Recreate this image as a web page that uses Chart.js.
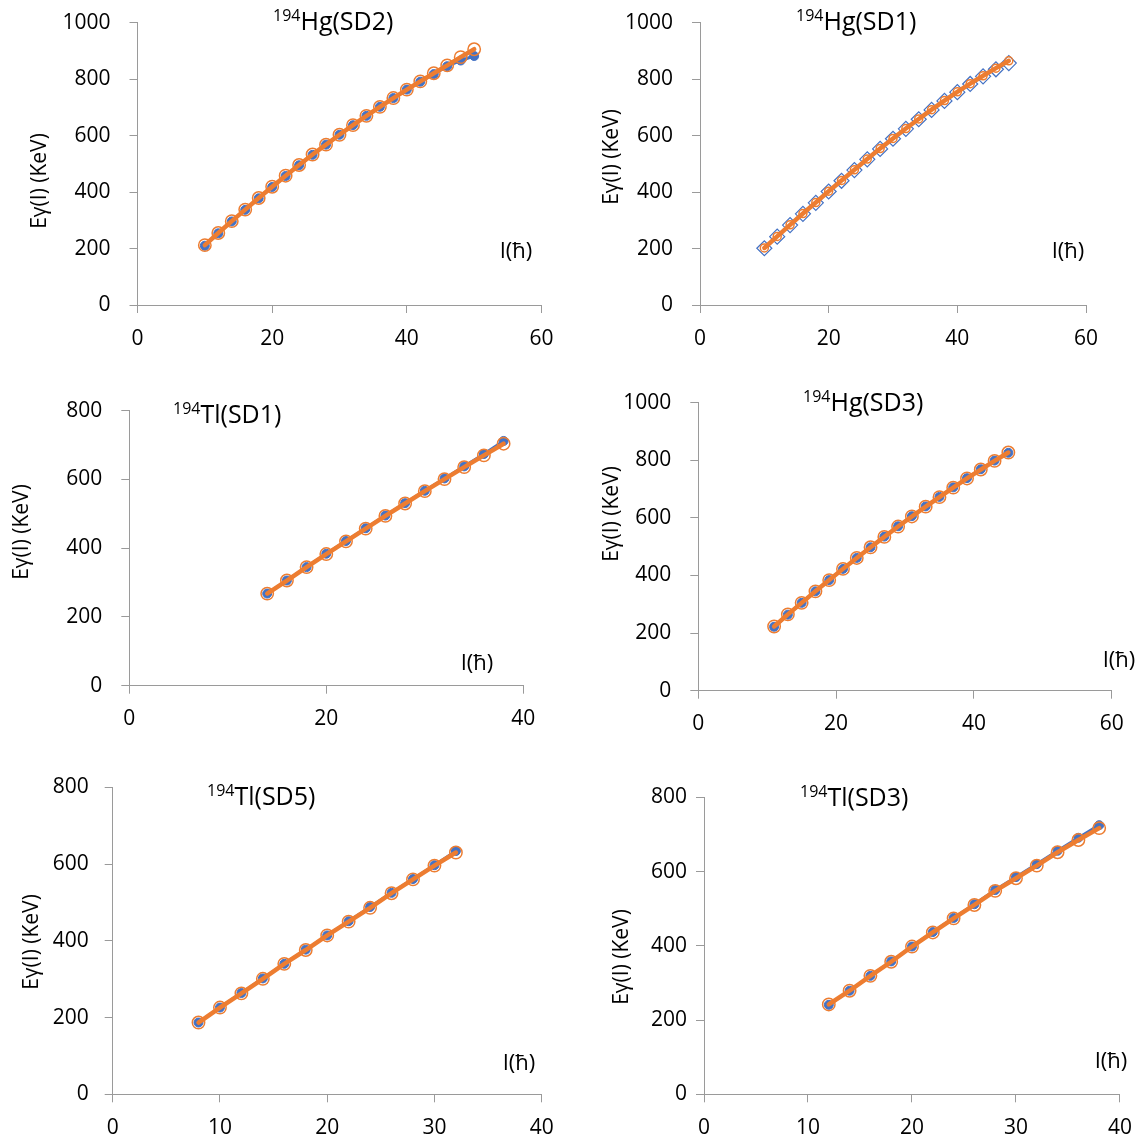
<!DOCTYPE html>
<html>
<head>
<meta charset="utf-8">
<script src="https://cdn.jsdelivr.net/npm/chart.js@4.4.1/dist/chart.umd.min.js"></script>
<style>
  html, body { margin: 0; padding: 0; background: #fff; }
  #wrap { position: relative; width: 1145px; height: 1145px; }
  canvas { position: absolute; }
</style>
</head>
<body>
<div id="wrap"></div>
<script>
// spin values (x) and gamma energies in keV (y) for each band
const spinHgSD2 = [10, 12, 14, 16, 18, 20, 22, 24, 26, 28, 30, 32, 34, 36, 38, 40, 42, 44, 46, 48, 50];
const hgSD2Exp  = [210, 254, 296, 337, 378, 418, 457, 495, 532, 568, 603, 637, 670, 702, 733, 763, 791, 818, 846, 866, 882];
const hgSD2Calc = [212, 255, 297, 338, 379, 419, 458, 496, 533, 568, 603, 637, 670, 702, 733, 763, 792, 821, 849, 878, 906];

const spinHgSD1 = [10, 12, 14, 16, 18, 20, 22, 24, 26, 28, 30, 32, 34, 36, 38, 40, 42, 44, 46, 48];
const hgSD1Exp  = [201, 242, 283, 323, 362, 402, 440, 478, 516, 553, 589, 624, 658, 691, 723, 754, 783, 810, 835, 857];
const hgSD1Calc = [202, 243, 284, 324, 363, 403, 441, 479, 517, 554, 590, 625, 659, 692, 724, 755, 784, 812, 839, 865];

const spinTlSD1 = [14, 16, 18, 20, 22, 24, 26, 28, 30, 32, 34, 36, 38];
const tlSD1Exp  = [268, 306, 345, 384, 421, 458, 495, 531, 567, 603, 638, 674, 712];
const tlSD1Calc = [268, 306, 345, 383, 420, 457, 494, 530, 566, 601, 636, 670, 704];

const spinHgSD3 = [11, 13, 15, 17, 19, 21, 23, 25, 27, 29, 31, 33, 35, 37, 39, 41, 43, 45];
const hgSD3Exp  = [222, 264, 305, 345, 384, 423, 461, 498, 535, 571, 606, 640, 673, 706, 738, 769, 799, 826];
const hgSD3Calc = [223, 265, 305, 345, 384, 423, 461, 498, 534, 570, 605, 639, 672, 705, 737, 768, 798, 827];

const spinTlSD5 = [8, 10, 12, 14, 16, 18, 20, 22, 24, 26, 28, 30, 32];
const tlSD5Exp  = [187, 226, 264, 302, 340, 377, 414, 451, 488, 525, 561, 597, 634];
const tlSD5Calc = [187, 226, 263, 301, 340, 376, 414, 450, 486, 524, 560, 596, 630];

const spinTlSD3 = [12, 14, 16, 18, 20, 22, 24, 26, 28, 30, 32, 34, 36, 38];
const tlSD3Exp  = [241, 279, 319, 358, 398, 437, 475, 512, 550, 585, 620, 656, 691, 725];
const tlSD3Calc = [242, 279, 319, 357, 398, 436, 474, 510, 548, 582, 616, 652, 685, 717];

const BLUE = '#4472C4';
const ORANGE = '#ED7D31';
const AXIS = '#9a9a9a';
const FONT = "'Open Sans', sans-serif";

Chart.defaults.font.family = FONT;
Chart.defaults.color = '#000';

const panels = [
  { cell: [0, 0, 572, 370], area: [137.5, 22.7, 541.5, 305], xMax: 60, xStep: 20, yMax: 1000, yPad: 19,
    spins: spinHgSD2, exp: hgSD2Exp, calc: hgSD2Calc, nucleus: 'Hg', band: '(SD2)',
    title: [273, 30], unit: [516, 258], yTitle: [40, 181], style: 'dot' },
  { cell: [572, 0, 573, 370], area: [700, 22.7, 1086, 305], xMax: 60, xStep: 20, yMax: 1000, yPad: 19,
    spins: spinHgSD1, exp: hgSD1Exp, calc: hgSD1Calc, nucleus: 'Hg', band: '(SD1)',
    title: [796, 30], unit: [1068, 258], yTitle: [612, 157], style: 'diamond' },
  { cell: [0, 370, 572, 390], area: [129.3, 410.7, 523.3, 685.7], xMax: 40, xStep: 20, yMax: 800, yPad: 19,
    spins: spinTlSD1, exp: tlSD1Exp, calc: tlSD1Calc, nucleus: 'Tl', band: '(SD1)',
    title: [173, 423], unit: [477, 670], yTitle: [22, 532], style: 'dot' },
  { cell: [572, 370, 573, 390], area: [698.3, 402.7, 1111.7, 690.7], xMax: 60, xStep: 20, yMax: 1000, yPad: 19,
    spins: spinHgSD3, exp: hgSD3Exp, calc: hgSD3Calc, nucleus: 'Hg', band: '(SD3)',
    title: [803, 411], unit: [1119, 667], yTitle: [612, 514], style: 'dot' },
  { cell: [0, 760, 572, 385], area: [112.7, 787.3, 541.7, 1094.3], xMax: 40, xStep: 10, yMax: 800, yPad: 16,
    spins: spinTlSD5, exp: tlSD5Exp, calc: tlSD5Calc, nucleus: 'Tl', band: '(SD5)',
    title: [207, 805], unit: [519, 1070], yTitle: [32, 942], style: 'dot' },
  { cell: [572, 760, 573, 385], area: [704, 797.3, 1123.3, 1094.3], xMax: 40, xStep: 10, yMax: 800, yPad: 9,
    spins: spinTlSD3, exp: tlSD3Exp, calc: tlSD3Calc, nucleus: 'Tl', band: '(SD3)',
    title: [800, 806], unit: [1111, 1068], yTitle: [622, 957], style: 'dot' }
];

// band name, I(ħ) and the rotated y title, placed in page coordinates
function labelPlugin(p) {
  return {
    id: 'labels',
    afterDraw(chart) {
      const ctx = chart.ctx;
      const ox = p.cell[0], oy = p.cell[1];
      ctx.save();
      ctx.fillStyle = '#000';
      ctx.textBaseline = 'alphabetic';
      ctx.textAlign = 'left';
      ctx.font = '16px ' + FONT;
      const tx = p.title[0] - ox, ty = p.title[1] - oy;
      ctx.fillText('194', tx, ty - 9);
      const sw = ctx.measureText('194').width;
      ctx.font = '25px ' + FONT;
      ctx.fillText(p.nucleus + p.band, tx + sw, ty);

      ctx.font = '22px ' + FONT;
      ctx.textAlign = 'center';
      ctx.fillText('I(ħ)', p.unit[0] - ox, p.unit[1] - oy);

      ctx.translate(p.yTitle[0] - ox, p.yTitle[1] - oy);
      ctx.rotate(-Math.PI / 2);
      ctx.font = '21px ' + FONT;
      ctx.textBaseline = 'middle';
      ctx.fillText('Eγ(I) (KeV)', 0, 0);
      ctx.restore();
    }
  };
}

function pts(xs, ys) {
  return xs.map((x, i) => ({ x: x, y: ys[i] }));
}

const wrap = document.getElementById('wrap');

panels.forEach(p => {
  const [cx, cy, cw, ch] = p.cell;
  const [l, t, r, b] = p.area;
  const canvas = document.createElement('canvas');
  canvas.width = cw;
  canvas.height = ch;
  canvas.style.left = cx + 'px';
  canvas.style.top = cy + 'px';
  wrap.appendChild(canvas);

  const diamond = p.style === 'diamond';
  const expSet = {
    data: pts(p.spins, p.exp),
    order: 2,
    borderColor: BLUE,
    borderWidth: diamond ? 1.5 : 3,
    pointStyle: diamond ? 'rectRot' : 'circle',
    pointRadius: diamond ? 7.5 : 4.5,
    pointBorderWidth: diamond ? 1.2 : 1,
    pointBorderColor: BLUE,
    pointBackgroundColor: diamond ? '#fff' : BLUE,
    tension: 0
  };
  const calcSet = {
    data: pts(p.spins, p.calc),
    order: 1,
    borderColor: ORANGE,
    borderWidth: 4.5,
    borderCapStyle: 'round',
    pointStyle: 'circle',
    pointRadius: diamond ? 4 : 6.2,
    pointBorderWidth: 1.5,
    pointBorderColor: ORANGE,
    pointBackgroundColor: 'rgba(0,0,0,0)',
    tension: 0
  };

  new Chart(canvas, {
    type: 'line',
    data: { datasets: [calcSet, expSet] },
    options: {
      responsive: false,
      animation: false,
      layout: { padding: { left: 0, top: t - cy, right: cx + cw - r, bottom: 0 } },
      plugins: { legend: { display: false }, tooltip: { enabled: false } },
      scales: {
        x: {
          type: 'linear', min: 0, max: p.xMax,
          ticks: { stepSize: p.xStep, padding: 13, font: { size: 21 }, color: '#000' },
          grid: { drawOnChartArea: false, tickLength: 8, color: AXIS },
          border: { color: AXIS, width: 1 },
          afterFit: s => { s.height = cy + ch - b; }
        },
        y: {
          min: 0, max: p.yMax,
          ticks: { stepSize: 200, padding: p.yPad, font: { size: 21 }, color: '#000', callback: v => String(v) },
          grid: { drawOnChartArea: false, tickLength: 8, color: AXIS },
          border: { color: AXIS, width: 1 },
          afterFit: s => {
            s.width = l - cx;
            // keep the label padding from pushing the plot top down
            s.paddingTop = 12;
            s.paddingBottom = 12;
          }
        }
      }
    },
    plugins: [labelPlugin(p)]
  });
});
</script>
</body>
</html>
